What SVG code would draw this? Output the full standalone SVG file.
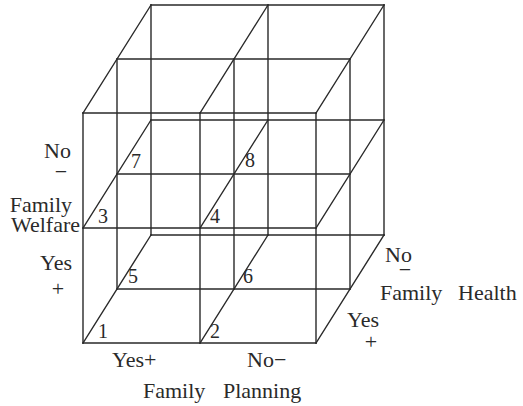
<svg xmlns="http://www.w3.org/2000/svg" width="523" height="406" viewBox="0 0 523 406">
<style>
.ln{fill:none;stroke:#2a2a2a;stroke-width:1.4;stroke-linecap:square}
.lb{font-family:"Liberation Serif","Times New Roman",serif;font-size:22px;fill:#2a2a2a}
.nm{font-family:"Liberation Serif","Times New Roman",serif;font-size:20px;fill:#2a2a2a}
</style>
<rect width="523" height="406" fill="#ffffff"/>
<g id="connectors" class="ln">
<path d="M83 113H316M83 228H316M83 343H316M117 59H350M117 174H350M117 289H350M151 5H384M151 120H384M151 235H384"/>
<path d="M83 113V343M200 113V343M316 113V343M117 59V289M234 59V289M350 59V289M151 5V235M268 5V235M384 5V235"/>
<path d="M83 113L151 5M200 113L268 5M316 113L384 5M83 228L151 120M200 228L268 120M316 228L384 120M83 343L151 235M200 343L268 235M316 343L384 235"/>
</g>
<g id="cell-1"><text class="nm" x="98" y="338">1</text></g>
<g id="cell-2"><text class="nm" x="210" y="338">2</text></g>
<g id="cell-3"><text class="nm" x="98" y="223">3</text></g>
<g id="cell-4"><text class="nm" x="210" y="223">4</text></g>
<g id="cell-5"><text class="nm" x="128" y="283">5</text></g>
<g id="cell-6"><text class="nm" x="243" y="283">6</text></g>
<g id="cell-7"><text class="nm" x="131" y="168">7</text></g>
<g id="cell-8"><text class="nm" x="245" y="167">8</text></g>
<g id="family-welfare">
<text class="lb" x="71" y="158" text-anchor="end">No</text>
<text class="lb" x="61" y="179" text-anchor="middle">−</text>
<text class="lb" x="72" y="212" text-anchor="end">Family</text>
<text class="lb" x="80" y="232" text-anchor="end">Welfare</text>
<text class="lb" x="72" y="270" text-anchor="end">Yes</text>
<text class="lb" x="58" y="296" text-anchor="middle">+</text>
</g>
<g id="family-planning">
<text class="lb" x="112" y="367">Yes+</text>
<text class="lb" x="247" y="367">No−</text>
<text class="lb" y="398"><tspan x="143">Family</tspan><tspan x="223">Planning</tspan></text>
</g>
<g id="family-health">
<text class="lb" x="385" y="262">No</text>
<text class="lb" x="405" y="277" text-anchor="middle">−</text>
<text class="lb" y="300"><tspan x="380">Family</tspan><tspan x="458">Health</tspan></text>
<text class="lb" x="347" y="327">Yes</text>
<text class="lb" x="371" y="349" text-anchor="middle">+</text>
</g>
</svg>
